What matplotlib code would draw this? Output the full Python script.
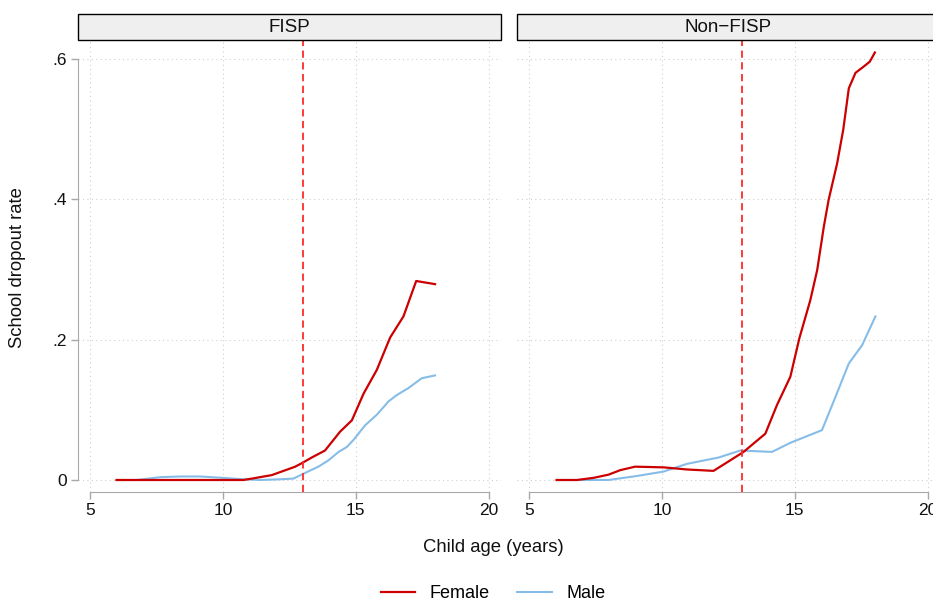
"""School dropout rate by child age, FISP vs non-FISP households."""

import matplotlib.pyplot as plt
from matplotlib.lines import Line2D
from matplotlib.patches import Rectangle

plt.rcParams["font.family"] = ["Liberation Sans", "DejaVu Sans"]

RED = "#cc0000"
BLUE = "#86bde8"
SPINE = "#a8a8a8"

# FISP panel
fisp_f_age = [6.0, 10.77, 11.15, 11.84, 12.28, 12.72, 12.97, 13.34, 13.84, 14.41,
              14.85, 15.29, 15.79, 16.29, 16.79, 17.27, 17.98]
fisp_f_rate = [0.0, 0.0, 0.0024, 0.007, 0.013, 0.019, 0.024, 0.032, 0.042, 0.069,
               0.085, 0.123, 0.157, 0.203, 0.233, 0.2835, 0.279]
fisp_m_age = [6.0, 6.76, 7.63, 8.39, 9.14, 10.02, 10.77, 11.40, 12.15, 12.65, 13.03,
              13.59, 13.97, 14.35, 14.66, 14.91, 15.35, 15.79, 16.23, 16.54, 16.98,
              17.48, 17.98]
fisp_m_rate = [0.0, 0.0, 0.004, 0.005, 0.005, 0.003, 0.001, 0.0, 0.001, 0.002, 0.009,
               0.019, 0.028, 0.040, 0.047, 0.057, 0.078, 0.093, 0.112, 0.121, 0.131,
               0.145, 0.149]

# Non-FISP panel
non_f_age = [6.04, 6.80, 7.42, 7.99, 8.43, 8.99, 10.06, 10.94, 11.94, 12.57, 13.07,
             13.89, 14.33, 14.83, 15.17, 15.58, 15.84, 16.09, 16.27, 16.59, 16.82,
             17.03, 17.28, 17.59, 17.82, 18.01]
non_f_rate = [0.0, 0.0, 0.003, 0.0076, 0.014, 0.019, 0.018, 0.015, 0.013, 0.028, 0.040,
              0.066, 0.107, 0.147, 0.202, 0.256, 0.299, 0.361, 0.399, 0.451, 0.499,
              0.558, 0.580, 0.589, 0.596, 0.609]
non_m_age = [6.04, 7.99, 9.06, 10.06, 10.94, 12.13, 12.95, 14.14, 14.83, 16.02, 16.46,
             17.03, 17.53, 18.03]
non_m_rate = [0.0, 0.0, 0.0057, 0.012, 0.023, 0.032, 0.042, 0.040, 0.053, 0.071, 0.112,
              0.166, 0.192, 0.233]

panels = ["FISP", "Non\u2212FISP"]
x_ticks = [5, 10, 15, 20]
y_ticks = [0, 0.2, 0.4, 0.6]
y_tick_labels = ["0", ".2", ".4", ".6"]
cutoff_age = 13

W, H = 933, 603
fig = plt.figure(figsize=(W / 100, H / 100), dpi=100)

series = [
    ((fisp_f_age, fisp_f_rate), (fisp_m_age, fisp_m_rate)),
    ((non_f_age, non_f_rate), (non_m_age, non_m_rate)),
]
lefts = [78, 517]
for i, (left, title, (fem, mal)) in enumerate(zip(lefts, panels, series)):
    ax = fig.add_axes([left / W, (H - 492) / H, 423 / W, 451 / H])
    ax.set_xlim(4.548, 20.46)
    ax.set_ylim(-0.0171, 0.6254)
    ax.set_xticks(x_ticks)
    ax.set_yticks(y_ticks)
    ax.grid(True, color="#cfcfcf", linestyle=(0, (1, 3)), linewidth=0.8)
    ax.set_axisbelow(True)
    for s in ("top", "right"):
        ax.spines[s].set_visible(False)
    ax.spines["bottom"].set_bounds(5, 20)
    ax.spines["bottom"].set_color(SPINE)
    ax.spines["left"].set_bounds(0, 0.6)
    ax.spines["left"].set_color(SPINE)
    ax.tick_params(axis="both", colors=SPINE, labelcolor="#111111",
                   length=5, width=1, labelsize=12.5, pad=3)
    if i == 0:
        ax.set_yticklabels(y_tick_labels)
    else:
        ax.spines["left"].set_visible(False)
        ax.tick_params(axis="y", left=False, labelleft=False)

    ax.plot(*mal, color=BLUE, lw=1.5, zorder=3)
    ax.plot(*fem, color=RED, lw=1.6, zorder=4)
    ax.axvline(cutoff_age, ymin=0, ymax=1, color="#ff2a2a", lw=1.3,
               linestyle=(0, (4, 2.5)), zorder=5)

    # strip header
    fig.patches.append(Rectangle((left / W, (H - 40) / H), 423 / W, 26 / H,
                                 transform=fig.transFigure, facecolor="#efefef",
                                 edgecolor="black", linewidth=1))
    fig.text((left + 211.5) / W, (H - 27) / H, title, ha="center", va="center",
             fontsize=13.5, color="#111111")

fig.text(17.5 / W, (H - 268) / H, "School dropout rate", rotation=90,
         ha="center", va="center", fontsize=13.3, color="#111111")
fig.text(493 / W, (H - 548) / H, "Child age (years)", ha="center", va="center",
         fontsize=13.3, color="#111111")

handles = [Line2D([], [], color=RED, lw=1.6), Line2D([], [], color=BLUE, lw=1.5)]
fig.legend(handles, ["Female", "Male"], loc="center", ncol=2, frameon=False,
           bbox_to_anchor=(493 / W, 9 / H), fontsize=13, handlelength=1.9,
           handletextpad=0.8, columnspacing=1.55)

fig.savefig("out.png", dpi=100)
